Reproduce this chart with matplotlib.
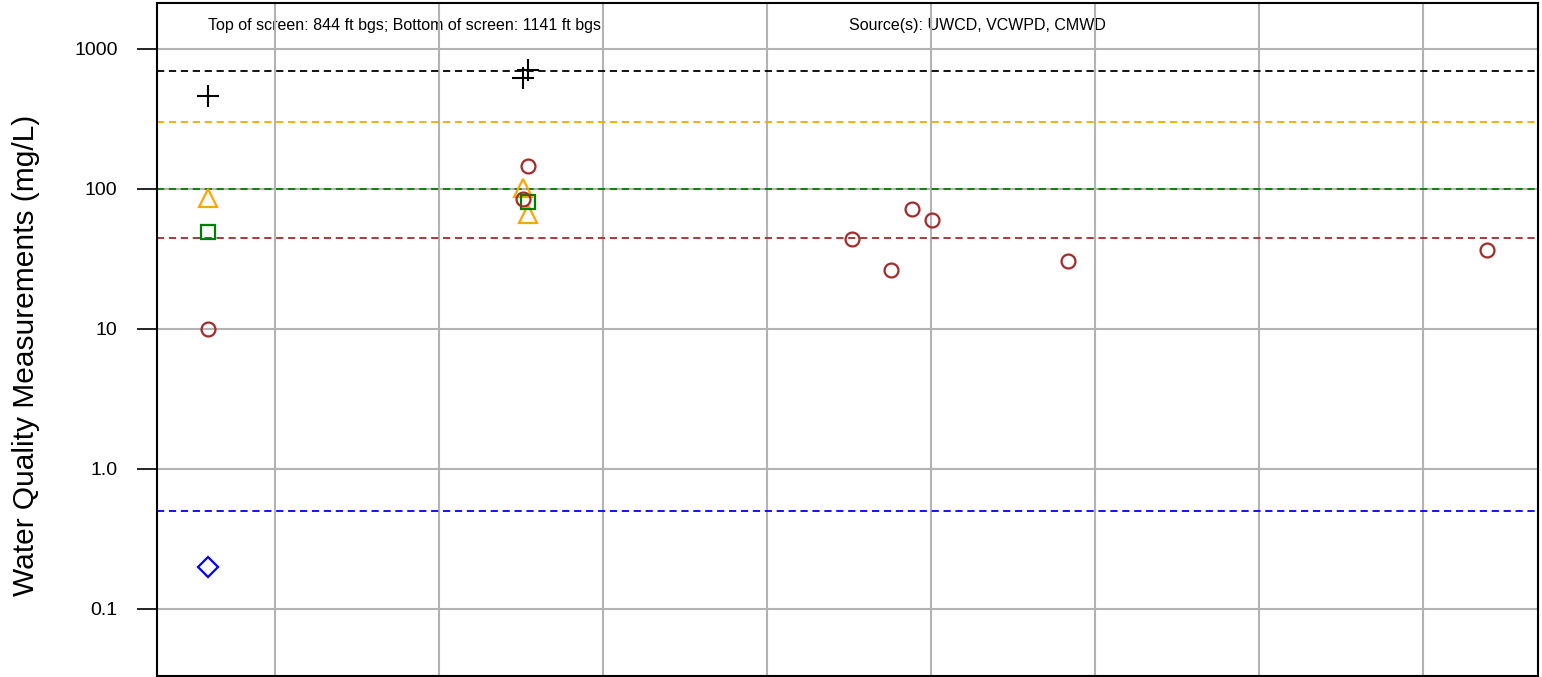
import matplotlib
matplotlib.use("Agg")
from matplotlib import pyplot as plt
import numpy as np

plt.rcParams["font.family"] = ["Liberation Sans", "DejaVu Sans"]

# sample dates (decimal years) and measured values, mg/L
tds_x = [1982.96, 1992.56, 1992.71]
tds_y = [462, 621, 708]
sulfate_x = [1982.96, 1992.56, 1992.71]
sulfate_y = [86, 101, 66]
chloride_x = [1982.96, 1992.71]
chloride_y = [49, 81]
nitrate_x = [1982.96, 1992.71, 1992.56, 2002.59, 2003.78, 2004.42, 2005.03, 2009.18, 2021.95]
nitrate_y = [10, 146, 85, 44, 26.4, 72, 60, 30.6, 36.7]
boron_x = [1982.96]
boron_y = [0.2]

# water quality objectives
limits = [700, 300, 100, 45, 0.5]
limit_colors = ["black", "orange", "green", "brown", "blue"]

grid_years = [1985, 1990, 1995, 2000, 2005, 2010, 2015, 2020]

fig = plt.figure(figsize=(15.42, 6.77), dpi=100)
ax = fig.add_axes([157 / 1542, 1 / 677, 1381 / 1542, 673 / 677])

ax.set_yscale("log")
ax.set_xlim(1981.4, 2023.5)
ax.set_ylim(0.0332, 2130)

ax.set_yticks([0.1, 1, 10, 100, 1000])
ax.set_yticklabels(["0.1", "1.0", "10", "100", "1000"], fontsize=14)
ax.yaxis.set_minor_locator(matplotlib.ticker.NullLocator())
ax.set_xticks(grid_years)
ax.set_xticklabels([])
ax.tick_params(axis="y", length=14.4, width=1.2, pad=14)
ax.tick_params(axis="x", length=0)
ax.grid(True, color="#b3b3b3", linewidth=1.5)
ax.set_axisbelow(True)

for lim, c in zip(limits, limit_colors):
    ax.axhline(lim, color=c, linestyle=(0, (4, 2.6)), linewidth=1.3, zorder=2)

ax.plot(tds_x, tds_y, linestyle="none", marker="+", color="black",
        markersize=15.5, markeredgewidth=1.5, zorder=3)
ax.plot(sulfate_x, sulfate_y, linestyle="none", marker="^", color="orange",
        markerfacecolor="none", markersize=13, markeredgewidth=1.6, zorder=3)
ax.plot(chloride_x, chloride_y, linestyle="none", marker="s", color="green",
        markerfacecolor="none", markersize=10.5, markeredgewidth=1.6, zorder=3)
ax.plot(nitrate_x, nitrate_y, linestyle="none", marker="o", color="brown",
        markerfacecolor="none", markersize=10, markeredgewidth=1.6, zorder=3)
ax.plot(boron_x, boron_y, linestyle="none", marker="D", color="blue",
        markerfacecolor="none", markersize=10, markeredgewidth=1.6, zorder=3)

for s in ax.spines.values():
    s.set_linewidth(1.5)

ax.set_ylabel("Water Quality Measurements (mg/L)", fontsize=21.5)
ax.yaxis.set_label_coords(-0.0847, 0.477)

ax.text(1982.96, 1480, "Top of screen: 844 ft bgs; Bottom of screen: 1141 ft bgs",
        fontsize=11.5, ha="left", va="center", zorder=0.4)
ax.text(2002.5, 1480, "Source(s): UWCD, VCWPD, CMWD",
        fontsize=11.5, ha="left", va="center", zorder=0.4)

fig.savefig("out.png", dpi=100)
